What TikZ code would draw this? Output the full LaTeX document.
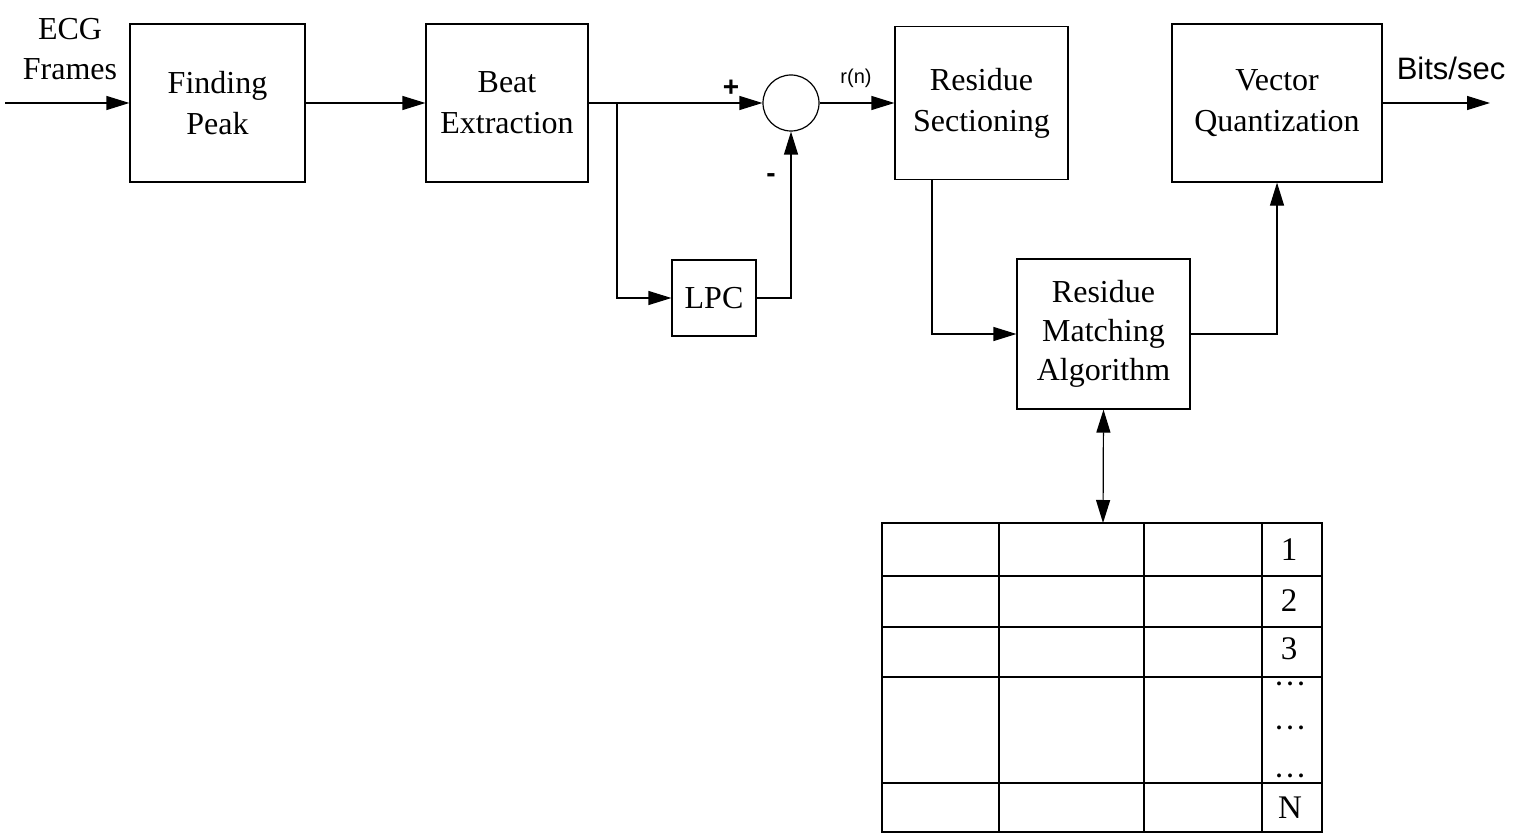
\documentclass[tikz,border=0pt]{standalone}
\usepackage{fontspec}
\setmainfont{Liberation Serif}
\setsansfont{Liberation Sans}
\usetikzlibrary{arrows.meta}
\tikzset{
  blk/.style={draw, line width=1.2pt, align=center, inner sep=0pt,
    font=\fontsize{32}{41}\selectfont},
  arr/.style={line width=1.2pt, -{Triangle[length=23pt,width=14pt]}},
  darr/.style={line width=1.2pt, {Triangle[length=23pt,width=14pt]}-{Triangle[length=23pt,width=14pt]}},
  ln/.style={line width=1.2pt},
  lbl/.style={font=\fontsize{32}{40}\selectfont, align=center, inner sep=0pt},
  slbl/.style={font=\sffamily\fontsize{31}{38}\selectfont, inner sep=0pt},
  num/.style={font=\fontsize{33}{38}\selectfont, inner sep=0pt},
  dts/.style={font=\bfseries\fontsize{24}{28}\selectfont, inner sep=0pt}
}
\newcommand{\vdts}{.\hspace{5pt}.\hspace{5pt}.}
\begin{document}
\begin{tikzpicture}[x=1pt,y=-1pt]
\useasboundingbox (0,0) rectangle (1514,837);
% blocks
\node[blk, minimum width=175pt, minimum height=158pt] (fp) at (217.5,103) {Finding\\Peak};
\node[blk, minimum width=162pt, minimum height=158pt] (be) at (507,103) {Beat\\Extraction};
\node[draw, circle, line width=1.2pt, minimum size=56pt, inner sep=0pt] (sum) at (791,103) {};
\node[blk, minimum width=84pt, minimum height=76pt] (lpc) at (714,298) {LPC};
\node[blk, minimum width=173pt, minimum height=153pt] (rs) at (981.5,103) {Residue\\Sectioning};
\node[blk, minimum width=210pt, minimum height=158pt] (vq) at (1277,103) {Vector\\Quantization};
\node[blk, minimum width=173pt, minimum height=150pt, font=\fontsize{32}{39}\selectfont] (rma) at (1103.5,334) {Residue\\Matching\\Algorithm};
% labels
\node[lbl] (ecg) at (70,49) {ECG\\Frames};
\node[font=\sffamily\bfseries\fontsize{28}{30}\selectfont, inner sep=0pt] (plus) at (731,88) {+};
\node[font=\sffamily\bfseries\fontsize{28}{30}\selectfont, inner sep=0pt] (minus) at (771,178) {-};
\node[font=\sffamily\fontsize{20}{24}\selectfont, inner sep=0pt] (rn) at (856,78) {r(n)};
\node[slbl] (bits) at (1451,68) {Bits/sec};
% coordinates
\coordinate (in) at (5,103);
\coordinate (out) at (1490,103);
\coordinate (br) at (617,103);
\coordinate (tbltop) at (1103,523);
% connectors
\draw[arr] (in) -- (fp.west);
\draw[arr] (fp.east) -- (be.west);
\draw[arr] (be.east) -- (sum.west);
\draw[arr] (br) |- (lpc.west);
\draw[arr] (lpc.east) -| (sum.south);
\draw[arr] (sum.east) -- (rs.west);
\draw[arr] ([xshift=-49.5pt]rs.south) |- (rma.west);
\draw[arr] (rma.east) -| (vq.south);
\draw[arr] (vq.east) -- (out);
\draw[darr] (rma.south) -- (tbltop);
% table
\draw[ln] (882,523) rectangle (1322,832);
\foreach \yy in {576,627,677,783} \draw[ln] (882,\yy) -- (1322,\yy);
\foreach \xx in {999,1144,1262} \draw[ln] (\xx,523) -- (\xx,832);
\node[num] (n1) at (1289,550) {1};
\node[num] (n2) at (1289,601) {2};
\node[num] (n3) at (1289,649) {3};
\node[dts] (d1) at (1290,684) {\vdts};
\node[dts] (d2) at (1290,728) {\vdts};
\node[dts] (d3) at (1290,776) {\vdts};
\node[num] (nN) at (1290,808) {N};
\end{tikzpicture}
\end{document}
